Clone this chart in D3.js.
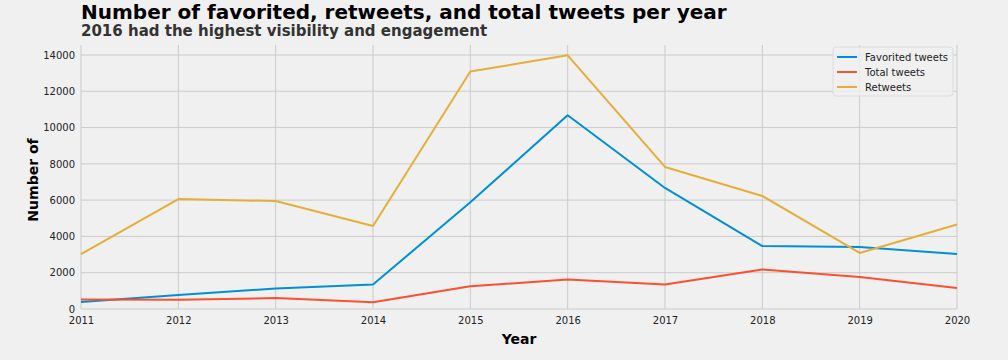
<!DOCTYPE html>
<html>
<head>
<meta charset="utf-8">
<script src="https://cdn.jsdelivr.net/npm/d3@7"></script>
<style>
  body { margin: 0; background: #f0f0f0; }
  text { font-family: "DejaVu Sans", sans-serif; }
</style>
</head>
<body>
<div id="chart"></div>
<script>
// Data
const years = [2011, 2012, 2013, 2014, 2015, 2016, 2017, 2018, 2019, 2020];
const favorited = [380, 770, 1130, 1350, 5880, 10680, 6670, 3470, 3420, 3030];
const totalTweets = [520, 510, 600, 370, 1250, 1630, 1350, 2180, 1760, 1160];
const retweets = [3030, 6060, 5950, 4575, 13090, 13980, 7830, 6230, 3090, 4660];
const yTicks = [0, 2000, 4000, 6000, 8000, 10000, 12000, 14000];
const seriesNames = ['Favorited tweets', 'Total tweets', 'Retweets'];
const seriesColors = ['#008fd5', '#fc4f30', '#e5ae38'];

const width = 1008;
const height = 360;
const margin = { top: 45, right: 51, bottom: 51, left: 81 };
const innerW = width - margin.left - margin.right;
const innerH = height - margin.top - margin.bottom;

const svg = d3.select('#chart')
  .append('svg')
  .attr('width', width)
  .attr('height', height)
  .style('background', '#f0f0f0');

const g = svg.append('g')
  .attr('transform', `translate(${margin.left},${margin.top})`);

// Scales
const x = d3.scaleLinear().domain([2011, 2020]).range([0, innerW]);
const y = d3.scaleLinear().domain([0, 14550]).range([innerH, 0]);

// Grid lines
g.append('g')
  .selectAll('line')
  .data(yTicks)
  .enter()
  .append('line')
  .attr('x1', 0)
  .attr('x2', innerW)
  .attr('y1', d => y(d))
  .attr('y2', d => y(d))
  .attr('stroke', '#cbcbcb')
  .attr('stroke-width', 1);

g.append('g')
  .selectAll('line')
  .data(years)
  .enter()
  .append('line')
  .attr('x1', d => x(d))
  .attr('x2', d => x(d))
  .attr('y1', 0)
  .attr('y2', innerH)
  .attr('stroke', '#cbcbcb')
  .attr('stroke-width', 1);

// Axes (no domain, no tick marks)
const xAxis = g.append('g')
  .attr('transform', `translate(0,${innerH})`)
  .call(d3.axisBottom(x).tickValues(years).tickFormat(d3.format('d')).tickSize(0).tickPadding(8));
xAxis.select('.domain').remove();
xAxis.selectAll('text').attr('font-size', 10).attr('fill', '#222').style('font-family', '"DejaVu Sans", sans-serif');

const yAxis = g.append('g')
  .call(d3.axisLeft(y).tickValues(yTicks).tickFormat(d3.format('d')).tickSize(0).tickPadding(6));
yAxis.select('.domain').remove();
yAxis.selectAll('text').attr('font-size', 10).attr('fill', '#222').style('font-family', '"DejaVu Sans", sans-serif');

// Lines
const allSeries = [favorited, totalTweets, retweets];
const line = d3.line()
  .x((d, i) => x(years[i]))
  .y(d => y(d));

g.selectAll('.series')
  .data(allSeries)
  .enter()
  .append('path')
  .attr('class', 'series')
  .attr('d', d => line(d))
  .attr('fill', 'none')
  .attr('stroke', (d, i) => seriesColors[i])
  .attr('stroke-width', 2)
  .attr('stroke-linejoin', 'round');

// Legend
const legend = svg.append('g')
  .attr('transform', 'translate(833,47)');
legend.append('rect')
  .attr('width', 120)
  .attr('height', 49)
  .attr('rx', 3)
  .attr('fill', '#f0f0f0')
  .attr('fill-opacity', 0.8)
  .attr('stroke', '#dcdcdc');
seriesNames.forEach((name, i) => {
  const row = legend.append('g').attr('transform', `translate(0,${10 + i * 15})`);
  row.append('line')
    .attr('x1', 4).attr('x2', 24)
    .attr('y1', 0).attr('y2', 0)
    .attr('stroke', seriesColors[i])
    .attr('stroke-width', 2);
  row.append('text')
    .attr('x', 32)
    .attr('y', 4)
    .attr('font-size', 10)
    .attr('fill', '#222')
    .text(name);
});

// Titles
svg.append('text')
  .attr('x', 81)
  .attr('y', 19)
  .attr('font-size', 20)
  .attr('font-weight', 'bold')
  .attr('fill', '#000')
  .text('Number of favorited, retweets, and total tweets per year');

svg.append('text')
  .attr('x', 81)
  .attr('y', 36)
  .attr('font-size', 15)
  .attr('font-weight', 'bold')
  .attr('fill', '#333')
  .text('2016 had the highest visibility and engagement');

// Axis labels
svg.append('text')
  .attr('x', margin.left + innerW / 2)
  .attr('y', 344)
  .attr('text-anchor', 'middle')
  .attr('font-size', 14)
  .attr('font-weight', 'bold')
  .attr('fill', '#000')
  .text('Year');

svg.append('text')
  .attr('transform', `translate(38,${margin.top + 135}) rotate(-90)`)
  .attr('text-anchor', 'middle')
  .attr('font-size', 14)
  .attr('font-weight', 'bold')
  .attr('fill', '#000')
  .text('Number of');
</script>
</body>
</html>
